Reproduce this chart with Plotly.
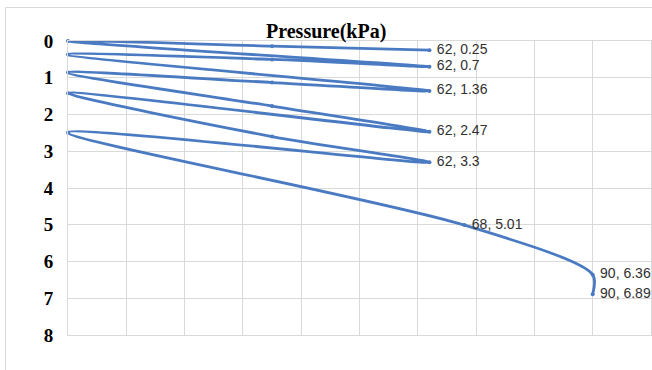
import plotly.graph_objects as go

# Data (pressure kPa, depth) in plotting order
pressure = [62, 35, 0, 62, 35, 0, 62, 35, 0, 35, 62, 0, 35, 62, 0, 68, 90, 90]
depth = [0.25, 0.14, 0, 0.7, 0.5, 0.37, 1.36, 1.13, 0.86, 1.77, 2.47, 1.42, 2.6, 3.3, 2.49, 5.01, 6.36, 6.89]
labeled_pressures = [62, 68, 90]

y_ticks = [0, 1, 2, 3, 4, 5, 6, 7, 8]
x_ticks = [0, 10, 20, 30, 40, 50, 60, 70, 80, 90, 100]
title_text = "Pressure(kPa)"

labels = [f" {p}, {d}" if p in labeled_pressures else "" for p, d in zip(pressure, depth)]

LINE = "#4a7bc2"
GRID = "#d9d9d9"

fig = go.Figure()
fig.add_trace(go.Scatter(
    x=pressure, y=depth,
    mode="lines+markers+text",
    line=dict(color=LINE, width=2.8, shape="spline", smoothing=0.85),
    marker=dict(color=LINE, size=4),
    text=labels,
    textposition="middle right",
    textfont=dict(family="Liberation Sans Narrow, Liberation Sans, Arial", size=14, color="#303030"),
    cliponaxis=False,
    showlegend=False,
    hoverinfo="skip",
))

fig.update_layout(
    width=652, height=370,
    margin=dict(l=68, r=1, t=41, b=35),
    paper_bgcolor="white",
    plot_bgcolor="white",
    xaxis=dict(
        range=[0, 100], tickvals=x_ticks, showticklabels=False, side="top",
        showgrid=True, gridcolor=GRID, gridwidth=1, zeroline=False,
        showline=True, linecolor=GRID, linewidth=1, mirror=True, ticks="",
    ),
    yaxis=dict(
        range=[8, 0], tickvals=y_ticks, ticktext=[str(v) for v in y_ticks],
        showgrid=True, gridcolor=GRID, gridwidth=1, zeroline=False,
        showline=True, linecolor=GRID, linewidth=1, mirror=True, ticks="",
        tickfont=dict(family="Liberation Serif, Times New Roman, serif", size=19, color="black", weight="bold"),
        ticklabelstandoff=10,
    ),
    annotations=[dict(
        text=f"<b>{title_text}</b>",
        xref="paper", yref="paper",
        x=(326 - 68) / 583, y=0.985,
        xanchor="center", yanchor="bottom",
        showarrow=False,
        font=dict(family="Liberation Serif, Times New Roman, serif", size=20, color="black"),
    )],
    shapes=[dict(
        type="rect", xref="paper", yref="paper",
        x0=(5.5 - 68) / 583, x1=1.05,
        y0=-0.15, y1=1 + (41 - 7.5) / 294,
        line=dict(color=GRID, width=1), layer="below",
    )],
)

fig.write_html("out.html")
